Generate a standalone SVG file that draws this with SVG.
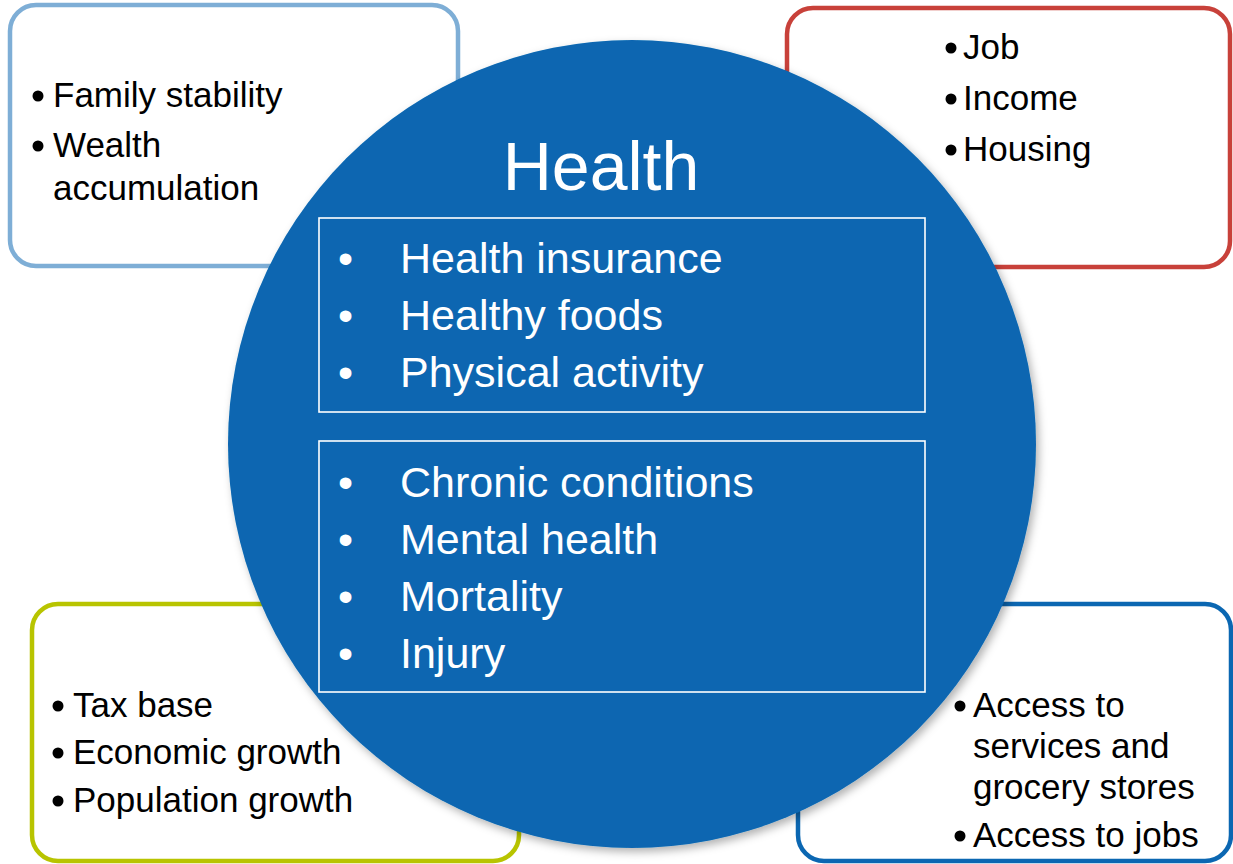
<svg xmlns="http://www.w3.org/2000/svg" width="1233" height="864" viewBox="0 0 1233 864">
<style>
.box{fill:#ffffff;stroke-width:4.5}
.t{font-family:"Liberation Sans",Arial,sans-serif;font-size:35px;fill:#000000}
.b{fill:#000000}
.w{font-family:"Liberation Sans",Arial,sans-serif;fill:#ffffff}
.il{font-size:43px}
.frame{fill:none;stroke:#ffffff;stroke-width:1.6}
</style>
<defs>
<filter id="sh" x="-10%" y="-10%" width="120%" height="120%">
<feDropShadow dx="3" dy="4" stdDeviation="4" flood-color="#000000" flood-opacity="0.3"/>
</filter>
</defs>
<rect width="1233" height="864" fill="#ffffff"/>
<g id="box-family">
<rect class="box" x="10" y="5" width="448" height="261" rx="26" stroke="#7eaed6"/>
<circle class="b" cx="38" cy="96" r="5.5"/><text class="t" x="53" y="107">Family stability</text>
<circle class="b" cx="38" cy="146" r="5.5"/><text class="t" x="53" y="157">Wealth</text>
<text class="t" x="53" y="200">accumulation</text>
</g>
<g id="box-job">
<rect class="box" x="787" y="8" width="443" height="259" rx="26" stroke="#c8413a"/>
<circle class="b" cx="951" cy="48" r="5.5"/><text class="t" x="963" y="59">Job</text>
<circle class="b" cx="951" cy="99" r="5.5"/><text class="t" x="963" y="110">Income</text>
<circle class="b" cx="951" cy="150" r="5.5"/><text class="t" x="963" y="161">Housing</text>
</g>
<g id="box-tax">
<rect class="box" x="32" y="604" width="487" height="257" rx="26" stroke="#b8c400"/>
<circle class="b" cx="58" cy="706" r="5.5"/><text class="t" x="73" y="717">Tax base</text>
<circle class="b" cx="58" cy="753" r="5.5"/><text class="t" x="73" y="764">Economic growth</text>
<circle class="b" cx="58" cy="801" r="5.5"/><text class="t" x="73" y="812">Population growth</text>
</g>
<g id="box-access">
<rect class="box" x="798" y="604" width="433" height="257" rx="26" stroke="#0b67b2"/>
<circle class="b" cx="960" cy="706" r="5.5"/><text class="t" x="973" y="717">Access to</text>
<text class="t" x="973" y="758">services and</text>
<text class="t" x="973" y="799">grocery stores</text>
<circle class="b" cx="960" cy="836" r="5.5"/><text class="t" x="973" y="847">Access to jobs</text>
</g>
<g id="health">
<circle cx="632" cy="444" r="404" fill="#0866b1" filter="url(#sh)"/>
<text class="w" x="601" y="190" font-size="68" text-anchor="middle">Health</text>
<rect class="frame" x="319" y="218" width="606" height="194"/>
<text class="w il" x="338" y="273">•</text><text class="w il" x="400" y="273">Health insurance</text>
<text class="w il" x="338" y="330">•</text><text class="w il" x="400" y="330">Healthy foods</text>
<text class="w il" x="338" y="387">•</text><text class="w il" x="400" y="387">Physical activity</text>
<rect class="frame" x="319" y="441" width="606" height="251"/>
<text class="w il" x="338" y="497">•</text><text class="w il" x="400" y="497">Chronic conditions</text>
<text class="w il" x="338" y="554">•</text><text class="w il" x="400" y="554">Mental health</text>
<text class="w il" x="338" y="611">•</text><text class="w il" x="400" y="611">Mortality</text>
<text class="w il" x="338" y="668">•</text><text class="w il" x="400" y="668">Injury</text>
</g>
<g id="connectors"></g>
</svg>
